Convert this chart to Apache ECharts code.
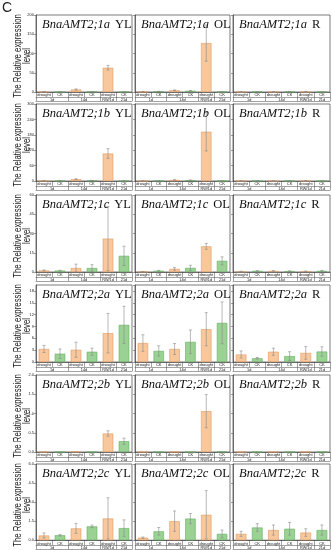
<!DOCTYPE html>
<html><head><meta charset="utf-8">
<script src="https://cdn.jsdelivr.net/npm/echarts@6/dist/echarts.min.js"></script>
<style>html,body{margin:0;padding:0;background:#fff}#c{width:332px;height:550px}</style>
</head><body><div id="c"></div>
<script>
// ---------- data ----------
const categories = ['drought', 'CK', 'drought', 'CK', 'drought', 'CK'];
const timeLabels = ['1d', '14d', 'RW/1d', '21d'];
const timeGroupSizes = [2, 2, 1, 1];
const genes = ['BnaAMT2;1a', 'BnaAMT2;1b', 'BnaAMT2;1c', 'BnaAMT2;2a', 'BnaAMT2;2b', 'BnaAMT2;2c'];
const tissues = ['YL', 'OL', 'R'];
const yMax = [200, 300, 60, 19.5, 2, 6];
const yStep = [50, 60, 15, 3, 0.5, 1.5];
const yDecimals = [0, 0, 0, 0, 1, 1];

// values / SD, order: drought1d, CK1d, drought14d, CK14d, droughtRW, CK21d
const v1aYL = [0.8, 0.6, 6.5, 1.2, 63, 0.6];      const e1aYL = [0.3, 0.2, 1.5, 0.3, 6, 0.2];
const v1aOL = [0.6, 1.5, 4.5, 3.2, 127, 0.5];     const e1aOL = [0.2, 0.4, 1, 0.8, 47, 0.2];
const v1aR  = [0.5, 0.9, 0.6, 0.9, 0.7, 0.6];     const e1aR  = [0.1, 0.2, 0.1, 0.2, 0.2, 0.1];
const v1bYL = [0.8, 0.8, 7, 2, 107, 0.6];         const e1bYL = [0.3, 0.3, 2, 0.5, 19, 0.2];
const v1bOL = [0.6, 1, 4, 3, 192, 0.5];           const e1bOL = [0.2, 0.3, 1, 1, 75, 0.2];
const v1bR  = [0.4, 0.7, 0.5, 0.8, 0.6, 0.5];     const e1bR  = [0.1, 0.2, 0.1, 0.2, 0.2, 0.1];
const v1cYL = [1.2, 1.1, 3.1, 3.1, 26, 12.6];     const e1cYL = [0.4, 0.3, 3, 2.6, 25, 7.5];
const v1cOL = [0.3, 1, 2.4, 3.2, 20, 8.7];        const e1cOL = [0.1, 0.3, 1, 2, 2.3, 3.1];
const v1cR  = [0.4, 0.9, 0.8, 0.7, 0.6, 0.9];     const e1cR  = [0.2, 0.2, 0.3, 0.2, 0.2, 0.3];
const v2aYL = [3.3, 2.1, 3.1, 2.6, 7.3, 9.4];     const e2aYL = [0.9, 1.2, 1.9, 0.9, 5, 4.7];
const v2aOL = [4.8, 2.8, 3.3, 5.1, 8.3, 9.9];     const e2aOL = [2.1, 1.3, 1.4, 3, 4.2, 5.3];
const v2aR  = [1.9, 0.95, 2.6, 1.5, 2.3, 2.65];   const e2aR  = [0.9, 0.2, 0.9, 1.1, 1.6, 1.2];
const v2bYL = [0.005, 0.003, 0.01, 0.004, 0.48, 0.28]; const e2bYL = [0, 0, 0, 0, 0.07, 0.08];
const v2bOL = [0.004, 0.003, 0.006, 0.004, 1.06, 0.01]; const e2bOL = [0, 0, 0, 0, 0.43, 0];
const v2bR  = [0.002, 0.002, 0.003, 0.002, 0.003, 0.002]; const e2bR = [0, 0, 0, 0, 0, 0];
const v2cYL = [0.37, 0.39, 0.93, 1.09, 1.71, 0.95]; const e2cYL = [0.2, 0.06, 0.39, 0.1, 1.63, 0.65];
const v2cOL = [0.2, 0.7, 1.5, 1.7, 2.0, 0.5];     const e2cOL = [0.05, 0.3, 0.8, 0.4, 1.9, 0.3];
const v2cR  = [0.5, 1.0, 0.8, 0.9, 0.6, 0.8];     const e2cR  = [0.2, 0.3, 0.4, 0.5, 0.3, 0.4];

const valueTable = [[v1aYL, v1aOL, v1aR], [v1bYL, v1bOL, v1bR], [v1cYL, v1cOL, v1cR],
                    [v2aYL, v2aOL, v2aR], [v2bYL, v2bOL, v2bR], [v2cYL, v2cOL, v2cR]];
const errTable = [[e1aYL, e1aOL, e1aR], [e1bYL, e1bOL, e1bR], [e1cYL, e1cOL, e1cR],
                  [e2aYL, e2aOL, e2aR], [e2bYL, e2bOL, e2bR], [e2cYL, e2cOL, e2cR]];

// ---------- layout / style ----------
const colLeft = [36, 135, 233];
const colWidth = [96, 95, 97];
const rowTop = [15, 104, 195, 285, 375, 464];
const gridH = 77;
const lineCol = '#444';
const orangeStyle = {color: '#F8C79B', borderColor: '#E49A5E', borderWidth: 0.6};
const greenStyle = {color: '#9AD294', borderColor: '#64AE5E', borderWidth: 0.6};

// group boundaries / centres on a 0..6 scale
const bounds = [0]; const centres = [];
timeGroupSizes.forEach(s => { const a = bounds[bounds.length - 1]; centres.push(a + s / 2); bounds.push(a + s); });

const option = {animation: false, grid: [], xAxis: [], yAxis: [], series: [], title: [], graphic: []};

option.graphic.push({type: 'text', left: 2, top: 1, style: {text: 'C', fontSize: 14, fontFamily: 'Liberation Sans', fill: '#222'}});

genes.forEach((gene, r) => {
  option.graphic.push({type: 'text', x: 22.5, y: rowTop[r] + 41, rotation: Math.PI / 2, scaleX: 0.78,
    style: {text: 'The Relative expression\nlevel', fontSize: 10, fontFamily: 'Liberation Sans', fill: '#222',
            align: 'center', verticalAlign: 'middle', lineHeight: 9.5}});
  tissues.forEach((tis, c) => {
    const idx = r * 3 + c;
    option.grid.push({left: colLeft[c], top: rowTop[r], width: colWidth[c], height: gridH,
      show: true, borderColor: lineCol, borderWidth: 0.7});
    option.title.push({text: '{i|' + gene + '} {n|' + tis + '}', left: colLeft[c] + 6, top: rowTop[r] + 1, padding: 0,
      textStyle: {fontWeight: 'normal', rich: {
        i: {fontFamily: 'Liberation Serif', fontStyle: 'italic', fontWeight: 'normal', fontSize: 12.5, color: '#111'},
        n: {fontFamily: 'Liberation Serif', fontWeight: 'normal', fontSize: 12.5, color: '#111'}}}});
    option.xAxis.push({type: 'category', gridIndex: idx, data: categories, position: 'bottom',
      axisLine: {lineStyle: {color: lineCol, width: 0.7}},
      axisTick: {show: true, length: 5, interval: 0, lineStyle: {color: lineCol, width: 0.5}},
      axisLabel: {fontSize: 4, margin: 1.3, color: '#222', interval: 0, fontFamily: 'Liberation Sans'}});
    option.xAxis.push({type: 'value', gridIndex: idx, min: 0, max: 6, position: 'bottom', offset: 5,
      axisLine: {show: true, lineStyle: {color: lineCol, width: 0.5}},
      axisTick: {show: true, customValues: bounds, length: 4, lineStyle: {color: lineCol, width: 0.5}},
      axisLabel: {show: true, customValues: centres, fontSize: 3.8, margin: 0.8, color: '#222', fontFamily: 'Liberation Sans',
        formatter: v => { const k = centres.findIndex(x => Math.abs(x - v) < 1e-6); return k >= 0 ? timeLabels[k] : ''; }},
      splitLine: {show: false}});
    option.xAxis.push({type: 'value', gridIndex: idx, min: 0, max: 6, position: 'bottom', offset: 9,
      axisLine: {show: true, lineStyle: {color: lineCol, width: 0.5}},
      axisTick: {show: false}, axisLabel: {show: false}, splitLine: {show: false}});
    option.yAxis.push({type: 'value', gridIndex: idx, min: 0, max: yMax[r], interval: yStep[r],
      axisLine: {show: true, lineStyle: {color: lineCol, width: 0.7}},
      axisTick: {show: true, length: 2, lineStyle: {color: lineCol, width: 0.5}},
      axisLabel: {show: c === 0, fontSize: 4, margin: 2, color: '#222', fontFamily: 'Liberation Sans',
        showMaxLabel: (yMax[r] % yStep[r]) === 0,
        formatter: v => v.toFixed(yDecimals[r])},
      splitLine: {show: false}});
    const vals = valueTable[r][c], errs = errTable[r][c];
    option.series.push({type: 'bar', xAxisIndex: idx * 3, yAxisIndex: idx, barWidth: '66%',
      data: vals.map((v, i) => ({value: v, itemStyle: i % 2 ? greenStyle : orangeStyle}))});
    option.series.push({type: 'custom', xAxisIndex: idx * 3, yAxisIndex: idx, z: 5,
      data: vals.map((v, i) => [i, v, errs[i]]),
      renderItem: (params, api) => {
        const x = api.value(0), v = api.value(1), e = api.value(2);
        if (!e) return null;
        const t = api.coord([x, v + e]), b = api.coord([x, Math.max(v - e, 0)]);
        const st = {stroke: '#8a8a8a', lineWidth: 0.6};
        return {type: 'group', children: [
          {type: 'line', shape: {x1: t[0], y1: t[1], x2: b[0], y2: b[1]}, style: st},
          {type: 'line', shape: {x1: t[0] - 1.5, y1: t[1], x2: t[0] + 1.5, y2: t[1]}, style: st},
          {type: 'line', shape: {x1: b[0] - 1.5, y1: b[1], x2: b[0] + 1.5, y2: b[1]}, style: st}
        ]};
      }});
  });
});

const chart = echarts.init(document.getElementById('c'), null, {renderer: 'canvas'});
chart.setOption(option);
</script></body></html>
